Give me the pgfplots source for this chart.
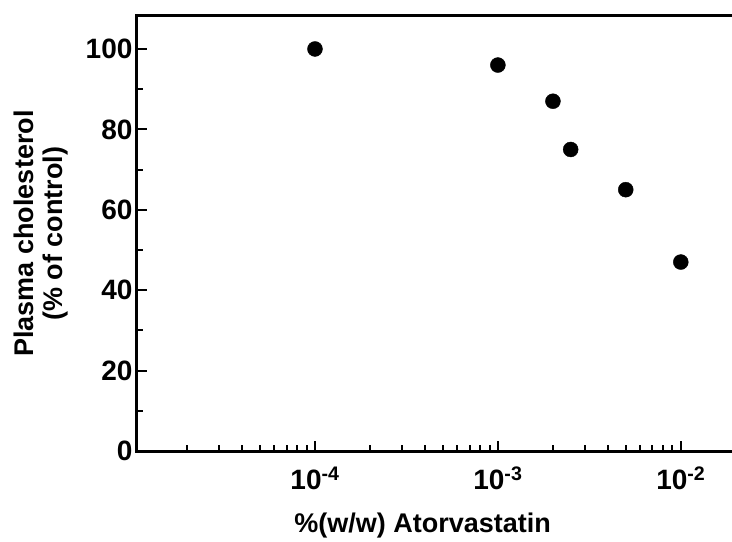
\documentclass[border=0pt]{standalone}
\usepackage{fontspec}
\setmainfont{Liberation Sans}
\usepackage{pgfplots}
\pgfplotsset{compat=1.18}

\begin{document}
\begin{tikzpicture}
\begin{axis}[
  scale only axis,
  width=595pt, height=435pt,
  xmode=log,
  xmin=1.064e-5, xmax=0.01905,
  ymin=0, ymax=108.2,
  axis x line*=box, axis y line*=left,
  axis line style={line width=3pt, line cap=rect},
  tick align=inside,
  xtick pos=bottom, ytick pos=left,
  major tick length=10pt, minor tick length=6pt,
  every tick/.style={black, line width=2pt},
  xtick={1e-4,1e-3,1e-2},
  xticklabels={10\textsuperscript{-4},10\textsuperscript{-3},10\textsuperscript{-2}},
  minor xtick={2e-5,3e-5,4e-5,5e-5,6e-5,7e-5,8e-5,9e-5,
               2e-4,3e-4,4e-4,5e-4,6e-4,7e-4,8e-4,9e-4,
               2e-3,3e-3,4e-3,5e-3,6e-3,7e-3,8e-3,9e-3},
  ytick={0,20,40,60,80,100},
  minor ytick={10,30,50,70,90},
  /pgf/number format/assume math mode=true,
  tick label style={font=\bfseries\fontsize{28}{31}\selectfont},
  xticklabel style={yshift=-12pt},
  yticklabel style={xshift=-1pt},
  xlabel={\%(w/w) Atorvastatin},
  ylabel={Plasma cholesterol\\(\% of control)},
  every axis x label/.style={at={(axis description cs:0.48,0)}, anchor=center, yshift=-75pt,
    font=\bfseries\fontsize{27}{31}\selectfont},
  every axis y label/.style={at={(axis description cs:-0.162,0.5)}, anchor=center, rotate=90,
    align=center, font=\bfseries\fontsize{27}{29}\selectfont},
  clip=false,
]
\addplot[only marks, mark=*, mark size=7.5pt, black] coordinates {
(1e-4,100) (1e-3,96) (2e-3,87) (2.5e-3,75) (5e-3,65) (1e-2,47)
};
\coordinate (bl) at (rel axis cs:0,0);
\coordinate (tr) at (rel axis cs:1,1);
\end{axis}
\pgfresetboundingbox
\path ([shift={(-137pt,-90pt)}]bl) rectangle ([shift={(0pt,16pt)}]tr);
\end{tikzpicture}
\end{document}
